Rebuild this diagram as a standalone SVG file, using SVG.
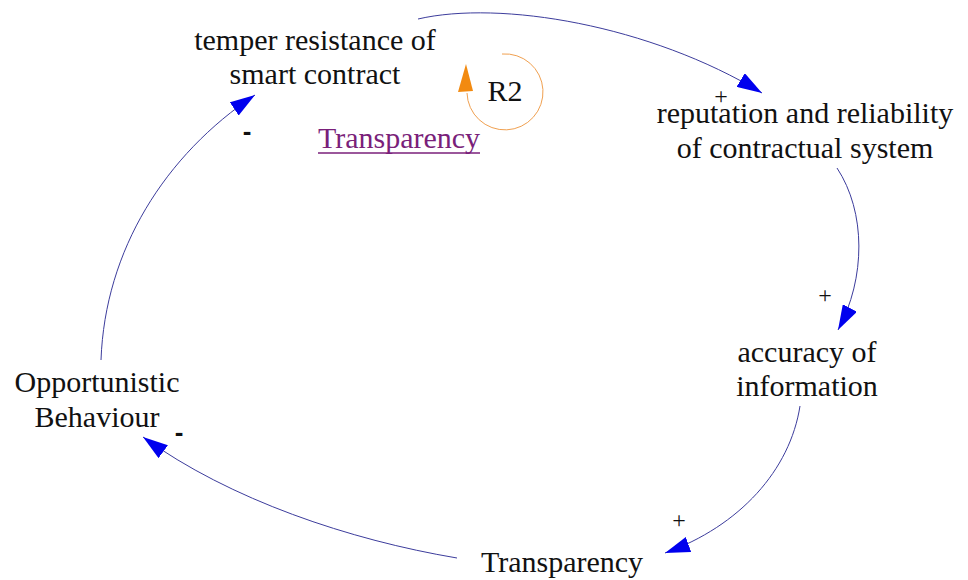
<svg xmlns="http://www.w3.org/2000/svg" width="968" height="580" viewBox="0 0 968 580">
<style>
.t{font-family:"Liberation Serif","Times New Roman",serif;font-size:30px;fill:#111;text-anchor:middle}
.s{font-family:"Liberation Serif","Times New Roman",serif;font-size:24px;fill:#111;text-anchor:middle}
.m{font-family:"Liberation Sans",Arial,sans-serif;font-size:26px;font-weight:bold;fill:#111;text-anchor:middle}
.c{fill:none;stroke:#3c3c9c;stroke-width:1}
</style>
<defs>
<marker id="ah" markerUnits="userSpaceOnUse" markerWidth="26" markerHeight="16" refX="25" refY="8" orient="auto">
<path d="M0,0 L25,8 L0,16 z" fill="#0000ee"/>
</marker>
</defs>
<rect width="968" height="580" fill="#fff"/>
<g id="connectors">
<path class="c" d="M418,19 C500,0 650,25 762,93" marker-end="url(#ah)"/>
<path class="c" d="M837,168 C866,212 866,278 838,330" marker-end="url(#ah)"/>
<path class="c" d="M800,406 C790,470 740,526 665,553" marker-end="url(#ah)"/>
<path class="c" d="M457,558 C350,540 230,500 143,437" marker-end="url(#ah)"/>
<path class="c" d="M101,360 C105,250 165,155 255,95" marker-end="url(#ah)"/>
<text class="s" x="721" y="104">+</text>
<text class="s" x="825" y="303">+</text>
<text class="s" x="679" y="528">+</text>
<text class="m" x="179" y="441">-</text>
<text class="m" x="247" y="140">-</text>
</g>
<g id="loop-R2">
<path d="M502,54 A38,38 0 1 1 467,93" fill="none" stroke="#f0a050" stroke-width="1"/>
<polygon points="458,92 473,91 466,64" fill="#f28a10"/>
<text class="t" x="505" y="101">R2</text>
</g>
<g id="node-temper">
<text class="t" x="315" y="50">temper resistance of</text>
<text class="t" x="315" y="84">smart contract</text>
</g>
<g id="node-transparency-shadow">
<text class="t" x="399" y="148" style="fill:#7a1f7a">Transparency</text>
<line x1="318" y1="153" x2="480" y2="153" stroke="#7a1f7a" stroke-width="1.5"/>
</g>
<g id="node-reputation">
<text class="t" x="805" y="123">reputation and reliability</text>
<text class="t" x="805" y="158">of contractual system</text>
</g>
<g id="node-accuracy">
<text class="t" x="807" y="362">accuracy of</text>
<text class="t" x="807" y="396">information</text>
</g>
<g id="node-transparency">
<text class="t" x="562" y="572">Transparency</text>
</g>
<g id="node-opportunistic">
<text class="t" x="97" y="392">Opportunistic</text>
<text class="t" x="97" y="427">Behaviour</text>
</g>
</svg>
